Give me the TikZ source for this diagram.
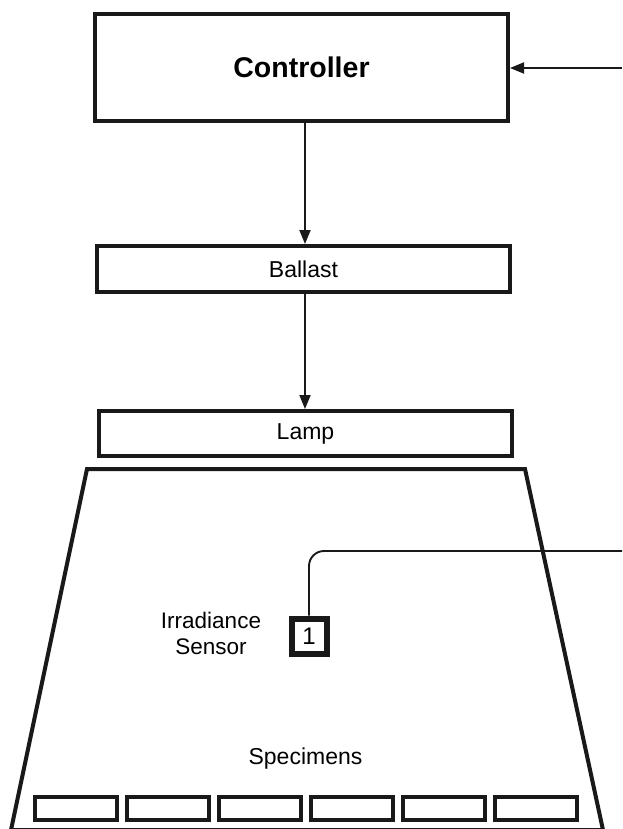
\documentclass[tikz,border=0pt]{standalone}
\usepackage{fontspec}
\setmainfont{Liberation Sans}
\usetikzlibrary{arrows.meta}
\begin{document}
\begin{tikzpicture}[x=1pt,y=-1pt,
  box/.style={draw=black!90,rectangle,inner sep=0pt,line width=4pt,font=\fontsize{23}{25}\selectfont},
  conn/.style={line width=1.9pt,draw=black!90},
  arr/.style={conn,-{Triangle[length=14pt,width=11pt]}},
  spec/.style={draw=black!90,rectangle,inner sep=0pt,line width=3.5pt,minimum width=82pt,minimum height=23pt}]
\useasboundingbox (0,0) rectangle (622,829);
\node[box,minimum width=413pt,minimum height=107pt,font=\fontsize{28.5}{30}\selectfont\bfseries] (ctrl) at (301.5,67.5) {Controller};
\node[box,minimum width=413pt,minimum height=46pt] (ballast) at (303.5,269) {Ballast};
\node[box,minimum width=413pt,minimum height=45pt] (lamp) at (305.5,433.5) {Lamp};
\draw[line width=4pt,draw=black!90] (87,469) -- (525,469) -- (603,830) -- (11,830) -- cycle;
\coordinate (in) at (622,68);
\draw[arr] (in) -- (ctrl.east |- in);
\draw[arr] (ctrl.south -| 305,0) -- (ballast.north -| 305,0);
\draw[arr] (ballast.south -| 305,0) -- (lamp.north -| 305,0);
\node[box,line width=6pt,minimum width=35pt,minimum height=35pt,font=\fontsize{24}{26}\selectfont] (sensor) at (309,636) {1};
\coordinate (out) at (622,551);
\draw[conn,rounded corners=15pt] (sensor.north) |- (out);
\node[align=center,font=\fontsize{22.5}{26}\selectfont] (slabel) at (211,633) {Irradiance\\Sensor};
\node[font=\fontsize{23}{25}\selectfont] (spectext) at (305.5,759) {Specimens};
\node[spec] (s1) at (76,808.5) {};
\node[spec] (s2) at (168,808.5) {};
\node[spec] (s3) at (260,808.5) {};
\node[spec] (s4) at (352,808.5) {};
\node[spec] (s5) at (444,808.5) {};
\node[spec] (s6) at (536,808.5) {};
\end{tikzpicture}
\end{document}
